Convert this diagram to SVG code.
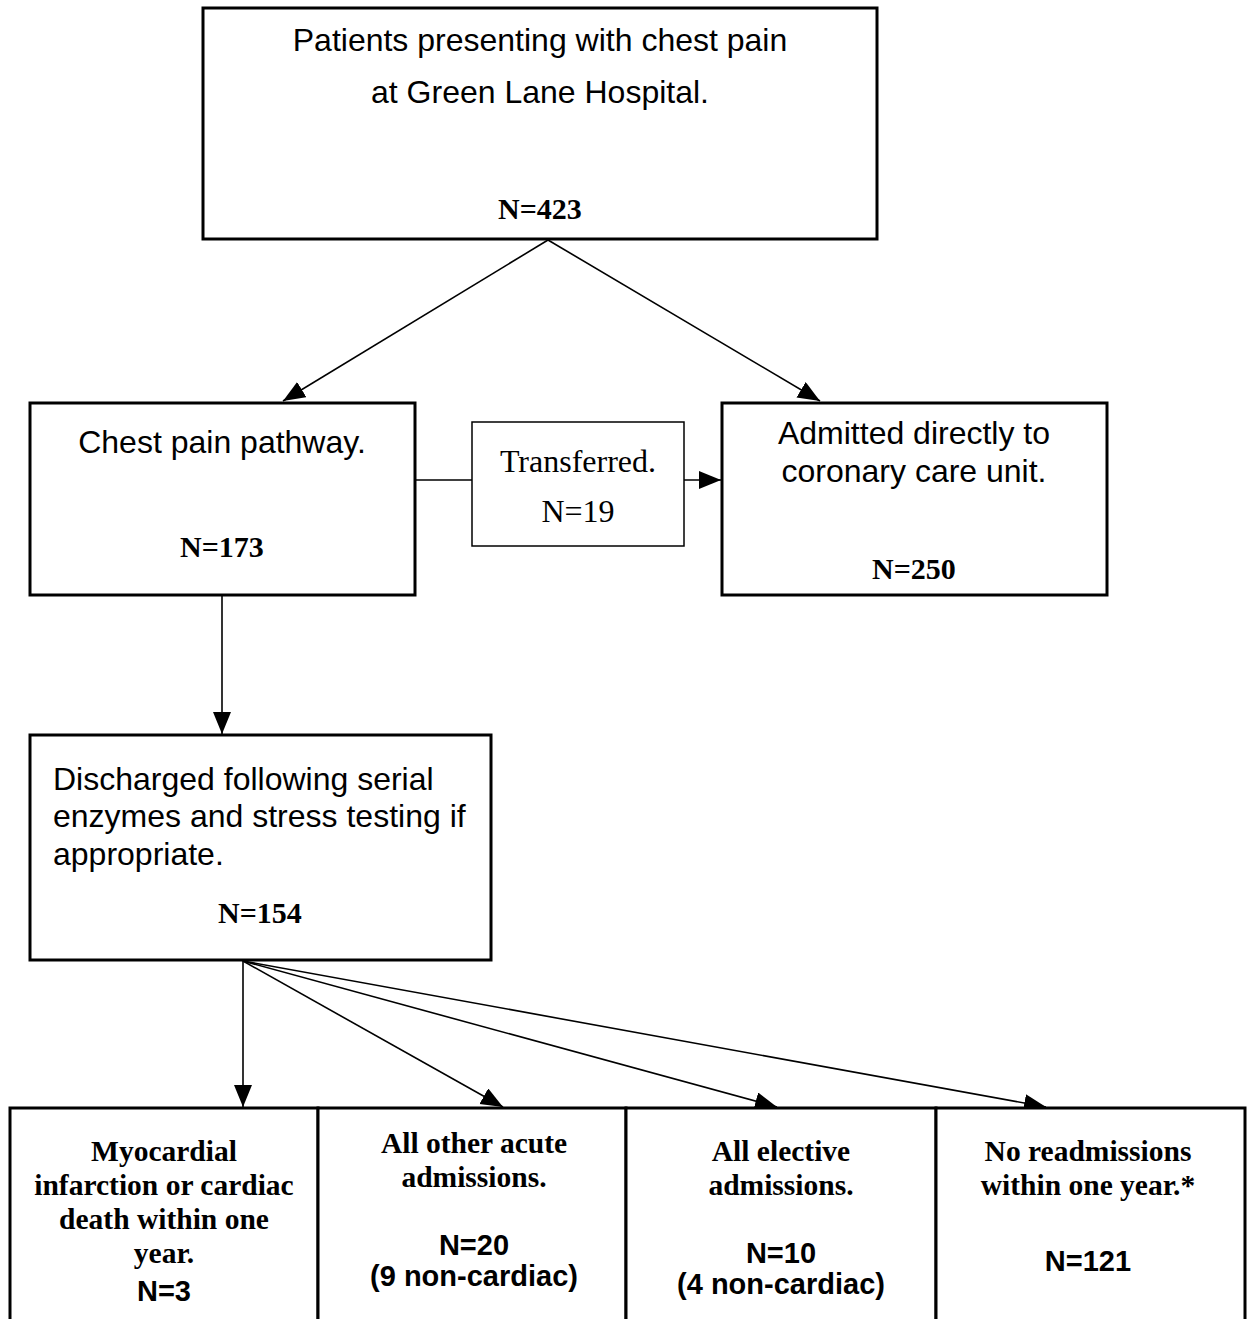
<svg xmlns="http://www.w3.org/2000/svg" width="1249" height="1319" viewBox="0 0 1249 1319">
<style>
.box{fill:#fff;stroke:#000;stroke-width:3}
.thin{fill:#fff;stroke:#000;stroke-width:1.5}
.con{stroke:#000;stroke-width:1.6;fill:none}
.sans{font-family:"Liberation Sans",Arial,sans-serif;font-size:32px;fill:#000}
.serif{font-family:"Liberation Serif","Times New Roman",serif;font-size:32px;fill:#000}
.nb{font-family:"Liberation Serif","Times New Roman",serif;font-size:30px;font-weight:bold;fill:#000}
.tb{font-family:"Liberation Serif","Times New Roman",serif;font-size:29.5px;font-weight:bold;fill:#000}
.sb{font-family:"Liberation Sans",Arial,sans-serif;font-size:29px;font-weight:bold;fill:#000}
.c{text-anchor:middle}
</style>
<defs>
<marker id="ah" markerUnits="userSpaceOnUse" markerWidth="24" markerHeight="20" refX="22" refY="9" orient="auto">
<path d="M0,0 L22,9 L0,18 z" fill="#000"/>
</marker>
</defs>
<g id="connectors">
<line class="con" x1="548" y1="240" x2="283" y2="401" marker-end="url(#ah)"/>
<line class="con" x1="548" y1="240" x2="820" y2="401" marker-end="url(#ah)"/>
<line class="con" x1="415" y1="480" x2="472" y2="480"/>
<line class="con" x1="684" y1="480" x2="721" y2="480" marker-end="url(#ah)"/>
<line class="con" x1="222" y1="596" x2="222" y2="734" marker-end="url(#ah)"/>
<line class="con" x1="243" y1="961" x2="243" y2="1107" marker-end="url(#ah)"/>
<line class="con" x1="243" y1="961" x2="503" y2="1107" marker-end="url(#ah)"/>
<line class="con" x1="243" y1="961" x2="777" y2="1107" marker-end="url(#ah)"/>
<line class="con" x1="243" y1="961" x2="1046" y2="1107" marker-end="url(#ah)"/>
</g>
<g id="top">
<rect class="box" x="203" y="8" width="674" height="231"/>
<text class="sans c" x="540" y="51">Patients presenting with chest pain</text>
<text class="sans c" x="540" y="103">at Green Lane Hospital.</text>
<text class="nb c" x="540" y="219">N=423</text>
</g>
<g id="pathway">
<rect class="box" x="30" y="403" width="385" height="192"/>
<text class="sans c" x="222" y="453">Chest pain pathway.</text>
<text class="nb c" x="222" y="557">N=173</text>
</g>
<g id="transferred">
<rect class="thin" x="472" y="422" width="212" height="124"/>
<text class="serif c" x="578" y="472">Transferred.</text>
<text class="serif c" x="578" y="522">N=19</text>
</g>
<g id="ccu">
<rect class="box" x="722" y="403" width="385" height="192"/>
<text class="sans c" x="914" y="444">Admitted directly to</text>
<text class="sans c" x="914" y="482">coronary care unit.</text>
<text class="nb c" x="914" y="579">N=250</text>
</g>
<g id="discharged">
<rect class="box" x="30" y="735" width="461" height="225"/>
<text class="sans" x="53" y="790">Discharged following serial</text>
<text class="sans" x="53" y="827">enzymes and stress testing if</text>
<text class="sans" x="53" y="865">appropriate.</text>
<text class="nb c" x="260" y="923">N=154</text>
</g>
<g id="mi">
<rect class="box" x="10" y="1108" width="308" height="230"/>
<text class="tb c" x="164" y="1161">Myocardial</text>
<text class="tb c" x="164" y="1195">infarction or cardiac</text>
<text class="tb c" x="164" y="1229">death within one</text>
<text class="tb c" x="164" y="1263">year.</text>
<text class="sb c" x="164" y="1301">N=3</text>
</g>
<g id="acute">
<rect class="box" x="318" y="1108" width="308" height="230"/>
<text class="tb c" x="474" y="1153">All other acute</text>
<text class="tb c" x="474" y="1187">admissions.</text>
<text class="sb c" x="474" y="1255">N=20</text>
<text class="sb c" x="474" y="1286">(9 non-cardiac)</text>
</g>
<g id="elective">
<rect class="box" x="626" y="1108" width="310" height="230"/>
<text class="tb c" x="781" y="1161">All elective</text>
<text class="tb c" x="781" y="1195">admissions.</text>
<text class="sb c" x="781" y="1263">N=10</text>
<text class="sb c" x="781" y="1294">(4 non-cardiac)</text>
</g>
<g id="none">
<rect class="box" x="936" y="1108" width="309" height="230"/>
<text class="tb c" x="1088" y="1161">No readmissions</text>
<text class="tb c" x="1088" y="1195">within one year.*</text>
<text class="sb c" x="1088" y="1271">N=121</text>
</g>
</svg>
